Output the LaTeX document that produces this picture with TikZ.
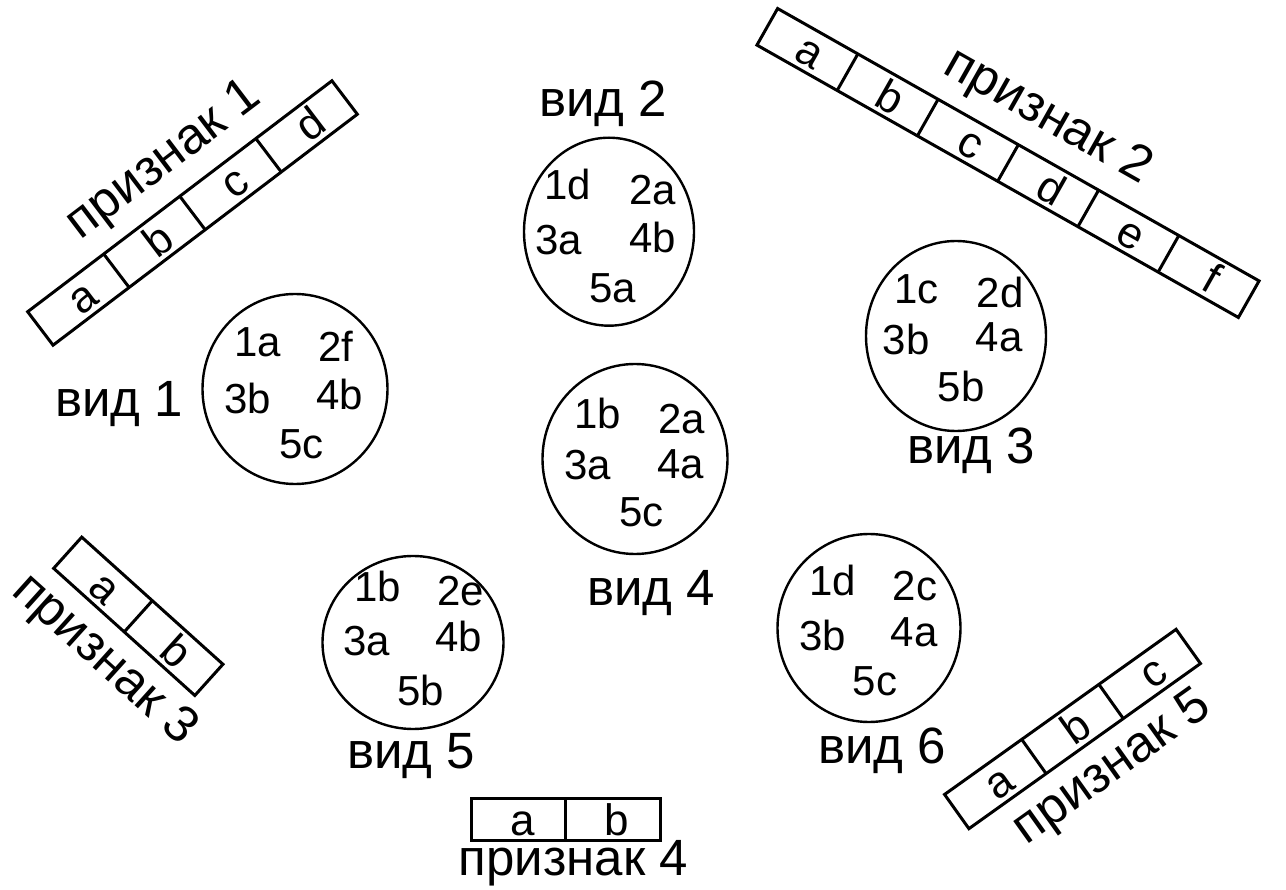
\documentclass[tikz,border=0pt]{standalone}
\usepackage{fontspec}
\setmainfont{Liberation Sans}
\usetikzlibrary{shapes.geometric}

% A feature strip: name, centre, angle, number of cells, cell length,
% letters, caption position (along, across), caption text
\newcommand\featbox[8]{%
  \begin{scope}[shift={#2}, rotate=#3]
    \pgfmathsetmacro\fbhalf{#4*#5/2}
    \pgfmathtruncatemacro\fblast{#4-1}
    \node[frame, rotate=#3, minimum width=2*\fbhalf pt, minimum height=42pt] (#1) at (0pt,0pt) {};
    \foreach \k in {1,...,\fblast}
      \draw[frame] (-\fbhalf pt+\k*#5 pt,-21pt) -- (-\fbhalf pt+\k*#5 pt,21pt);
    \foreach \l [count=\k] in {#6}
      \node[cell, rotate=#3] (#1\l) at (-\fbhalf pt+\k*#5 pt-#5 pt/2+4pt,-15.5pt) {\l};
    \node[lbl, rotate=#3] (#1cap) at #7 {#8};
  \end{scope}}

\begin{document}
\begin{tikzpicture}[x=1pt,y=-1pt,
  frame/.style={draw=black, line width=3pt, inner sep=0pt, outer sep=0pt},
  ring/.style={draw=black, line width=2.4pt, ellipse, inner sep=0pt},
  lbl/.style={font=\fontsize{51}{51}\selectfont, inner sep=0pt},
  item/.style={font=\fontsize{42}{42}\selectfont, inner sep=0pt, anchor=base},
  cell/.style={font=\fontsize{44}{44}\selectfont, inner sep=0pt, anchor=base},
  vlbl/.style={lbl, anchor=base},
]
\useasboundingbox (0,0) rectangle (1286,890);

% ---- feature strips ----
\featbox{f1}{(192.5,213)}{37.2}{4}{95.5}{a,b,c,d}{(9pt,58pt)}{признак 1}
\featbox{f2}{(1008,163)}{-29.5}{6}{92.2}{a,b,c,d,e,f}{(12pt,59pt)}{признак 2}
\featbox{f3}{(138.3,616.3)}{-42}{2}{95}{a,b}{(4pt,-56pt)}{признак 3}
\featbox{f4}{(565.5,819.5)}{0}{2}{94.5}{a,b}{(8pt,-44pt)}{признак 4}
\featbox{f5}{(1072.5,729)}{35.5}{3}{94.8}{a,b,c}{(10pt,-56pt)}{признак 5}

% ---- species ----
\node[ring, minimum width=185pt, minimum height=190pt] (v1) at (295,389) {};
\node[vlbl] (v1cap) at (119,416.7) {вид 1};
\node[item] (v1a) at (257.5,356.7) {1a};
\node[item] (v1b) at (336,361.7) {2f};
\node[item] (v1c) at (248,413.3) {3b};
\node[item] (v1d) at (340,410) {4b};
\node[item] (v1e) at (301.7,458.3) {5c};

\node[ring, minimum width=170pt, minimum height=188pt] (v2) at (609,231.7) {};
\node[vlbl] (v2cap) at (603,116.7) {вид 2};
\node[item] (v2a) at (568,200) {1d};
\node[item] (v2b) at (652.5,205) {2a};
\node[item] (v2c) at (559,255) {3a};
\node[item] (v2d) at (652.5,253) {4b};
\node[item] (v2e) at (613,303) {5a};

\node[ring, minimum width=180pt, minimum height=190pt] (v3) at (956,336) {};
\node[vlbl] (v3cap) at (971,463.3) {вид 3};
\node[item] (v3a) at (916.5,303.3) {1c};
\node[item] (v3b) at (1000,308) {2d};
\node[item] (v3c) at (906,355) {3b};
\node[item] (v3d) at (999,351.7) {4a};
\node[item] (v3e) at (961,401.7) {5b};

\node[ring, minimum width=185pt, minimum height=190pt] (v4) at (635,459) {};
\node[vlbl] (v4cap) at (651,605) {вид 4};
\node[item] (v4a) at (597.5,428.3) {1b};
\node[item] (v4b) at (681.7,433.3) {2a};
\node[item] (v4c) at (588,480) {3a};
\node[item] (v4d) at (681,478.3) {4a};
\node[item] (v4e) at (641.7,526.7) {5c};

\node[ring, minimum width=181pt, minimum height=173pt] (v5) at (413,642.5) {};
\node[vlbl] (v5cap) at (411,768.3) {вид 5};
\node[item] (v5a) at (377.5,601.7) {1b};
\node[item] (v5b) at (461,605) {2e};
\node[item] (v5c) at (366.7,655) {3a};
\node[item] (v5d) at (459,651.7) {4b};
\node[item] (v5e) at (421,705) {5b};

\node[ring, minimum width=183pt, minimum height=188pt] (v6) at (869,628) {};
\node[vlbl] (v6cap) at (882,763.3) {вид 6};
\node[item] (v6a) at (832.5,595) {1d};
\node[item] (v6b) at (915,600) {2c};
\node[item] (v6c) at (822.5,650) {3b};
\node[item] (v6d) at (914,646.7) {4a};
\node[item] (v6e) at (875,695) {5c};
\end{tikzpicture}
\end{document}
